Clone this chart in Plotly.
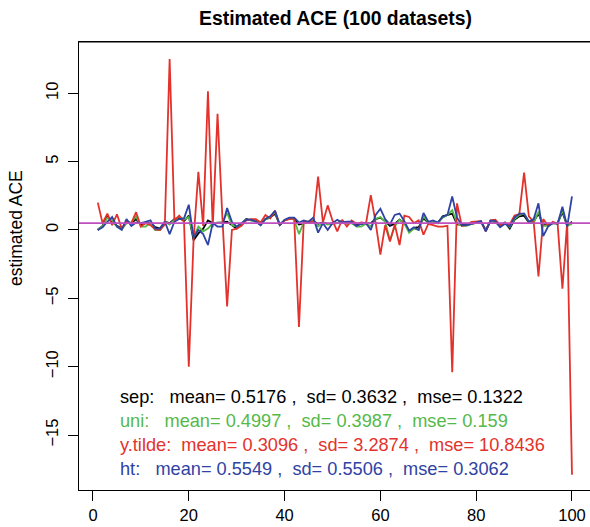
import plotly.graph_objects as go

idx = list(range(1, 101))

sep = [0.0, 0.3, 1.0, 0.6, 0.3, 0.1, 0.6, 0.5, 0.8, 0.4,
       0.5, 0.5, 0.2, 0.1, 0.6, 0.5, 0.8, 0.9, 0.65, 1.05,
       -0.75, -0.25, 0.1, 0.7, 0.5, 0.5, 0.55, 0.6, 0.35, 0.1,
       0.45, 0.8, 0.7, 0.7, 0.45, 0.8, 0.9, 1.2, 0.4, 0.7,
       0.85, 0.8, 0.4, 0.5, 0.6, 0.65, 0.45, 0.55, 0.45, 0.5,
       0.5, 0.65, 0.5, 0.5, 0.4, 0.45, 0.5, 0.5, 0.8, 0.9,
       0.65, 0.3, 0.45, 0.75, 0.5, -0.1, 0.15, 0.2, 0.85, 0.55,
       0.6, 0.5, 1.0, 1.1, 1.2, 0.4, 0.35, 0.35, 0.45, 0.5,
       0.6, 0.0, 0.65, 0.6, 0.3, 0.55, 0.1, 0.75, 1.0, 1.05,
       0.55, 0.6, 1.2, 0.35, 0.35, 0.5, 0.5, 1.3, 0.3, 0.6]

uni = [0.05, 0.25, 0.9, 0.7, 0.25, 0.05, 0.5, 0.55, 1.0, 0.25,
       0.25, 0.5, 0.0, 0.0, 0.6, 0.4, 0.75, 1.0, 0.75, 0.95,
       -0.5, 0.25, -0.1, 0.1, 0.5, 0.5, 0.55, 1.25, 0.35, 0.25,
       0.45, 0.75, 0.7, 0.65, 0.35, 0.8, 0.9, 1.3, 0.35, 0.7,
       0.85, 0.75, -0.3, 0.55, 0.6, 0.7, 0.25, 0.55, 0.4, 0.5,
       0.5, 0.6, 0.45, 0.5, 0.25, 0.25, 0.45, 0.25, 0.8, 0.95,
       0.6, -0.75, 0.25, 0.75, 0.5, -0.2, 0.1, 0.0, 1.0, 0.55,
       0.6, 0.5, 0.9, 1.1, 1.45, 0.5, 0.3, 0.3, 0.45, 0.5,
       0.6, -0.05, 0.65, 0.6, 0.25, 0.5, 0.2, 0.8, 1.1, 1.2,
       0.6, 0.5, 1.35, 0.3, 0.3, 0.5, 0.45, 1.45, 0.3, 0.45]

y_tilde = [2.0, 0.5, 1.2, 0.35, 1.15, 0.1, 0.6, 0.5, 1.3, 0.25,
           0.5, 0.35, 0.05, 0.0, 0.4, 12.5, 0.7, 1.05, 0.6, -10.0,
           -0.7, 4.25, 0.3, 10.15, 0.2, 8.5, 1.0, -5.6, 0.0, 0.1,
           0.3, 0.7, 0.8, 0.8, 0.55, 1.1, 0.85, 1.4, 0.35, 0.7,
           0.8, 0.85, -7.1, 0.6, 0.6, 0.6, 3.9, 0.55, 1.8, 0.7,
           -0.1, 0.75, 0.25, 0.7, 0.45, 0.55, 0.5, 2.55, 0.55, -1.8,
           0.35, -0.85, 0.4, -1.1, 1.05, 0.95, 0.5, 0.7, -0.35, 0.45,
           0.35, 0.25, 0.25, 0.3, -10.4, 1.95, 0.3, 0.35, 0.6, 0.6,
           0.65, -0.1, 0.7, 0.75, 0.35, 0.5, 0.4, 1.05, 1.15, 4.2,
           1.0, 0.6, -3.4, 0.8, 0.3, 0.6, 0.45, -4.3, 0.6, -17.9]

ht = [0.0, 0.2, 0.6, 0.95, 0.25, 0.0, 0.8, 0.3, 0.55, 0.5,
      0.6, 0.7, 0.1, 0.1, 0.6, -0.3, 0.6, 0.8, 0.85, 1.85,
      -0.55, 0.0, -0.3, -1.1, 0.5, 0.25, 0.25, 1.6, 0.6, 0.25,
      0.5, 0.75, 0.75, 0.6, 0.35, 0.8, 1.0, 1.4, 0.35, 0.75,
      0.9, 0.9, 0.55, 0.7, 0.6, 0.9, -0.2, 0.5, 0.0, 0.5,
      0.75, 0.55, 0.6, 0.6, 0.3, 0.45, 0.5, 0.0, 1.1, 1.55,
      0.8, 0.4, 1.1, 1.2, 0.65, -0.05, 0.2, 0.0, 1.25, 0.6,
      0.7, 0.55, 0.95, 1.1, 2.45, 0.9, 0.35, 0.35, 0.45, 0.55,
      0.65, -0.1, 0.7, 0.65, 0.2, 0.45, 0.25, 0.9, 1.2, 1.2,
      0.6, 0.8, 1.95, -0.45, 0.25, 0.5, 0.45, 1.7, 0.25, 2.45]

true_ace = 0.5

x_ticks = [0, 20, 40, 60, 80, 100]
y_ticks = [-15, -10, -5, 0, 5, 10]

stat_labels = [
    ("sep:", "0.5176", "0.3632", "0.1322"),
    ("uni:", "0.4997", "0.3987", "0.159"),
    ("y.tilde:", "0.3096", "3.2874", "10.8436"),
    ("ht:", "0.5549", "0.5506", "0.3062"),
]

C_SEP = "#000000"
C_UNI = "#55B948"
C_YT = "#E3322B"
C_HT = "#2E43A3"
C_TRUE = "#BF4FBF"

FONT = "Liberation Sans, Arial, Helvetica, sans-serif"

fig = go.Figure()
for ys, col in [(sep, C_SEP), (uni, C_UNI), (y_tilde, C_YT), (ht, C_HT)]:
    fig.add_trace(go.Scatter(x=idx, y=ys, mode="lines",
                             line=dict(color=col, width=1.8),
                             showlegend=False, hoverinfo="skip"))

fig.add_hline(y=true_ace, line=dict(color=C_TRUE, width=1.8))

NB = "\u00a0"
gaps = {"sep:": 3, "uni:": 3, "y.tilde:": 2, "ht:": 3}
cols = [C_SEP, C_UNI, C_YT, C_HT]
ys_px = [397, 421, 445, 469]
T, B = 42, 490
for (name, m, s, e), col, yp in zip(stat_labels, cols, ys_px):
    txt = (name + NB * gaps[name] + "mean=" + NB + m + NB + "," + NB * 2 +
           "sd=" + NB + s + NB + "," + NB * 2 + "mse=" + NB + e)
    fig.add_annotation(text=txt, xref="paper", yref="paper",
                       x=(118 - 79) / 511, y=(B - yp) / (B - T),
                       xanchor="left", yanchor="middle", showarrow=False,
                       font=dict(family=FONT, size=18.2, color=col))

fig.add_annotation(text="estimated ACE", xref="paper", yref="paper",
                   x=(16 - 79) / 511, y=(B - 228) / (B - T), textangle=-90,
                   xanchor="center", yanchor="middle", showarrow=False,
                   font=dict(family=FONT, size=17.5, color="black"))

fig.update_layout(
    width=590, height=527,
    margin=dict(l=79, r=0, t=T, b=527 - B),
    paper_bgcolor="white", plot_bgcolor="white",
    font=dict(family=FONT, color="black"),
    title=dict(text="<b>Estimated ACE (100 datasets)</b>",
               x=(335.5 - 79) / 511, xref="paper", xanchor="center",
               y=1 - 18 / 527, yanchor="middle",
               font=dict(family=FONT, size=19.4, color="black")),
    xaxis=dict(range=[-2.92, 103.76], tickvals=x_ticks,
               ticktext=[str(v) for v in x_ticks],
               showgrid=False, zeroline=False,
               showline=True, linecolor="black", linewidth=1, mirror=True,
               ticks="outside", ticklen=10, tickcolor="black",
               tickfont=dict(size=16.5, family=FONT)),
    yaxis=dict(range=[-19.02, 13.75], tickvals=y_ticks,
               ticktext=["\u2212" + str(-v) if v < 0 else str(v) for v in y_ticks],
               tickangle=-90,
               showgrid=False, zeroline=False,
               showline=True, linecolor="black", linewidth=1, mirror=False,
               ticks="outside", ticklen=10, tickcolor="black",
               ticklabelstandoff=3,
               tickfont=dict(size=16.5, family=FONT)),
)
fig.add_shape(type="line", xref="paper", yref="paper", x0=0, x1=1, y0=1, y1=1,
              line=dict(color="black", width=1))

fig.write_html("out.html")
